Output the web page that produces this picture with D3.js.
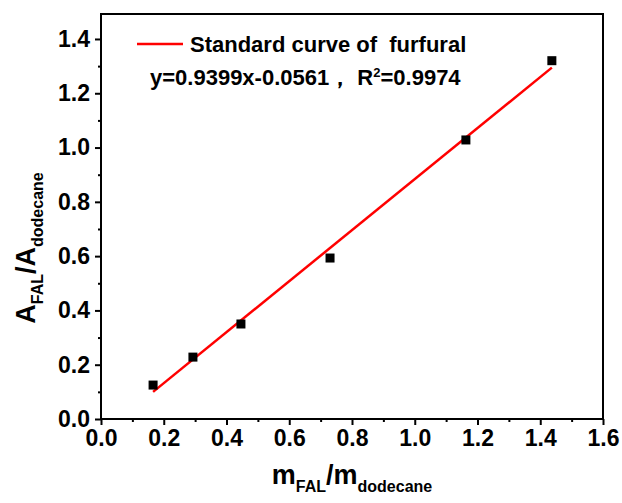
<!DOCTYPE html>
<html>
<head>
<meta charset="utf-8">
<script src="https://cdn.jsdelivr.net/npm/d3@7"></script>
<style>
  body { margin: 0; background: #fff; }
  text { font-family: "Liberation Sans", Arial, sans-serif; font-weight: bold; }
  .tick text { font-size: 23px; font-weight: bold; font-family: "Liberation Sans", Arial, sans-serif; }
</style>
</head>
<body>
<div id="chart"></div>
<script>
// measured points (m_FAL/m_dodecane, A_FAL/A_dodecane)
var massRatio = [0.166, 0.293, 0.446, 0.730, 1.163, 1.437]
var areaRatio = [0.125, 0.228, 0.350, 0.593, 1.028, 1.320]
var slope = 0.9399, intercept = -0.0561
var xTicks = [0.0, 0.2, 0.4, 0.6, 0.8, 1.0, 1.2, 1.4, 1.6]
var yTicks = [0.0, 0.2, 0.4, 0.6, 0.8, 1.0, 1.2, 1.4]

var W = 622, H = 503
var margin = { left: 101, right: 19, top: 14, bottom: 84 }
var width = W - margin.left - margin.right,
    height = H - margin.top - margin.bottom

var svg = d3.select("#chart").append("svg")
    .attr("width", W)
    .attr("height", H)

var g = svg.append("g")
    .attr("transform", "translate(" + margin.left + "," + margin.top + ")")

var xScale = d3.scaleLinear().domain([0, 1.6]).range([0, width])
var yScale = d3.scaleLinear().domain([0, 1.492]).range([height, 0])

// minor ticks (every 0.1)
var xMinor = d3.range(0.1, 1.6, 0.2)
var yMinor = d3.range(0.1, 1.45, 0.2)

var xAxis = g.append("g")
    .attr("transform", "translate(0," + height + ")")
    .call(d3.axisBottom(xScale).tickValues(xTicks).tickFormat(d3.format(".1f")).tickSize(6).tickPadding(5))
xAxis.select(".domain").remove()
g.append("g")
    .attr("transform", "translate(0," + height + ")")
    .call(d3.axisBottom(xScale).tickValues(xMinor).tickFormat("").tickSize(3))
    .select(".domain").remove()

var yAxis = g.append("g")
    .call(d3.axisLeft(yScale).tickValues(yTicks).tickFormat(d3.format(".1f")).tickSize(6).tickPadding(5))
yAxis.select(".domain").remove()
g.append("g")
    .call(d3.axisLeft(yScale).tickValues(yMinor).tickFormat("").tickSize(3))
    .select(".domain").remove()

g.selectAll("g").attr("font-family", null).attr("font-size", null)
g.selectAll(".tick line").attr("stroke", "#000").attr("stroke-width", 2)
g.selectAll(".tick text").attr("fill", "#000")

// frame
g.append("rect")
    .attr("x", 0).attr("y", 0)
    .attr("width", width).attr("height", height)
    .attr("fill", "none")
    .attr("stroke", "#000")
    .attr("stroke-width", 2)

// fitted line
var x0 = d3.min(massRatio), x1 = d3.max(massRatio)
g.append("line")
    .attr("x1", xScale(x0)).attr("y1", yScale(slope * x0 + intercept))
    .attr("x2", xScale(x1)).attr("y2", yScale(slope * x1 + intercept))
    .attr("stroke", "#ff0000")
    .attr("stroke-width", 2.5)

// data squares
var size = 9
g.selectAll("rect.pt")
    .data(massRatio)
    .enter()
    .append("rect")
    .attr("class", "pt")
    .attr("x", function (d) { return xScale(d) - size / 2 })
    .attr("y", function (d, i) { return yScale(areaRatio[i]) - size / 2 })
    .attr("width", size)
    .attr("height", size)
    .attr("fill", "#000")

// legend
svg.append("line")
    .attr("x1", 137).attr("x2", 183)
    .attr("y1", 44).attr("y2", 44)
    .attr("stroke", "#ff0000")
    .attr("stroke-width", 2.5)
svg.append("text")
    .attr("x", 190).attr("y", 52)
    .style("font-size", "22px")
    .attr("xml:space", "preserve")
    .text("Standard curve of  furfural")

var eq = svg.append("text")
    .attr("x", 150).attr("y", 85)
    .style("font-size", "22px")
eq.append("tspan").text("y=0.9399x-0.0561\uFF0C R")
eq.append("tspan").attr("dy", -8).style("font-size", "13px").text("2")
eq.append("tspan").attr("dy", 8).text("=0.9974")

// x title
var xt = svg.append("text")
    .attr("x", margin.left + width / 2)
    .attr("y", 484)
    .attr("text-anchor", "middle")
    .style("font-size", "27px")
xt.append("tspan").text("m")
xt.append("tspan").attr("dy", 8).style("font-size", "16px").text("FAL")
xt.append("tspan").attr("dy", -8).text("/m")
xt.append("tspan").attr("dy", 8).style("font-size", "16px").text("dodecane")

// y title
var yt = svg.append("text")
    .attr("transform", "translate(35,248) rotate(-90)")
    .attr("text-anchor", "middle")
    .style("font-size", "27px")
yt.append("tspan").text("A")
yt.append("tspan").attr("dy", 8).style("font-size", "16px").text("FAL")
yt.append("tspan").attr("dy", -8).text("/A")
yt.append("tspan").attr("dy", 8).style("font-size", "16px").text("dodecane")
</script>
</body>
</html>
